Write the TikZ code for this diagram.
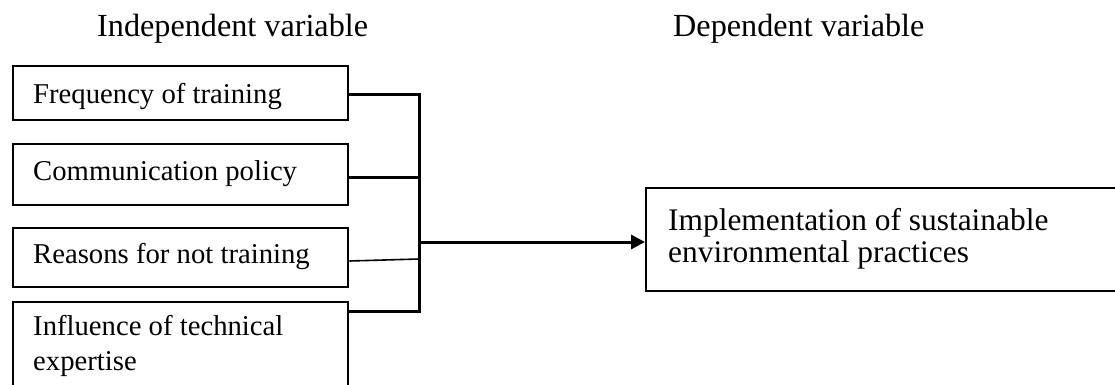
\documentclass[tikz,border=0pt]{standalone}
\usepackage{fontspec}
\setmainfont{Liberation Serif}
\usetikzlibrary{arrows.meta}
\begin{document}
\begin{tikzpicture}[x=1pt,y=-1pt,
  box/.style={draw=black,line width=2.4pt,rectangle,inner sep=0pt,anchor=north west},
  lbl/.style={anchor=base west,inner sep=0pt,font=\fontsize{28.7}{32}\selectfont},
  bigl/.style={anchor=base west,inner sep=0pt,font=\fontsize{31.4}{34}\selectfont},
  head/.style={anchor=base west,inner sep=0pt,font=\fontsize{32.2}{36}\selectfont},
  conn/.style={line width=3pt},
  thin/.style={line width=1.6pt}]
\useasboundingbox (0,0) rectangle (1115,385);
\clip (0,0) rectangle (1115,385);
% headings
\node[head] (hi) at (97,37) {Independent variable};
\node[head] (hd) at (673,37) {Dependent variable};
% independent boxes
\node[box,minimum width=335pt,minimum height=54pt] (b1) at (12,65) {};
\node[box,minimum width=335pt,minimum height=61pt] (b2) at (12,143) {};
\node[box,minimum width=335pt,minimum height=59pt] (b3) at (12,227) {};
\node[box,minimum width=335pt,minimum height=120pt] (b4) at (12,301) {};
\node[lbl] (t1) at (33,103) {Frequency of training};
\node[lbl] (t2) at (33,180) {Communication policy};
\node[lbl] (t3) at (33,263) {Reasons for not training};
\node[lbl] (t4a) at (33,335) {Influence of technical};
\node[lbl] (t4b) at (33,370) {expertise};
% dependent box
\node[box,minimum width=520pt,minimum height=103pt] (d) at (645,187) {};
\node[bigl] (d1) at (668,230) {Implementation of sustainable};
\node[bigl] (d2) at (668,262) {environmental practices};
% bus
\coordinate (top) at (419,95);
\coordinate (bot) at (419,311);
\coordinate (mid) at (419,242);
\draw[conn] (b1.east |- top) -- (top) -- (bot) -- (b4.east |- bot);
\draw[conn] (b2.east |- 0,177) -- (419,177);
\draw[thin] (b3.east |- 0,261) -- (419,259);
\draw[conn,-{Triangle[length=14pt,width=14pt]}] (mid) -- (d.west |- mid);
\end{tikzpicture}
\end{document}
